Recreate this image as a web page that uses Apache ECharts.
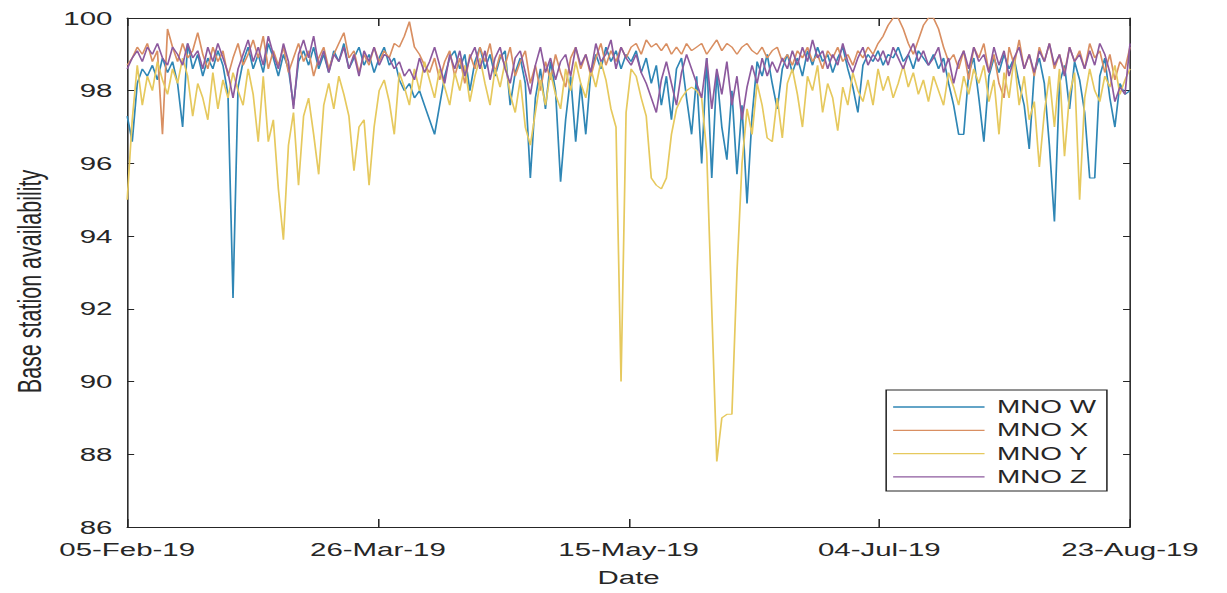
<!DOCTYPE html>
<html>
<head>
<meta charset="utf-8">
<title>Base station availability</title>
<script src="https://cdn.jsdelivr.net/npm/echarts@6/dist/echarts.min.js"></script>
<style>
  html, body { margin: 0; padding: 0; background: #ffffff; overflow: hidden; }
  #wrap { width: 1227px; height: 593px; overflow: hidden; }
  /* the figure is laid out on a narrower canvas and widened horizontally */
  #chart { width: 792px; height: 593px; transform-origin: 0 0; }
</style>
</head>
<body>
<div id="wrap"><div id="chart"></div></div>
<script>
// Daily availability (%) from 05-Feb-19 (day 0) to 23-Aug-19 (day 199)
const startDate = '05-Feb-19';
const tickLabels = ['05-Feb-19', '26-Mar-19', '15-May-19', '04-Jul-19', '23-Aug-19'];
const seriesNames = ['MNO W', 'MNO X', 'MNO Y', 'MNO Z'];

const mnoW = [
  97.3, 96.6, 98.2, 98.6, 98.4, 98.7, 98.3, 98.9, 98.5, 98.8,
  98.2, 97.0, 99.3, 98.6, 99.0, 98.4, 98.9, 98.6, 99.1, 98.7,
  97.9, 92.3, 98.1, 98.8, 99.2, 98.6, 99.0, 98.5, 99.3, 98.9,
  98.4, 99.0, 98.6, 97.6, 98.8, 99.1, 98.7, 99.2, 98.6, 99.0,
  98.5, 99.1, 98.8, 99.3, 98.6, 98.9, 99.2, 98.7, 99.0, 98.5,
  98.9, 99.2, 98.7, 98.9, 98.3, 98.0, 98.2, 97.8, 98.0, 97.6,
  97.2, 96.8, 97.6, 98.4, 98.9, 99.1, 98.6, 99.0, 98.0, 98.8,
  99.2, 98.6, 99.0, 98.4, 98.9, 99.1, 97.6, 98.5, 98.9, 98.2,
  95.6, 97.8, 98.6, 97.5, 98.8, 98.0, 95.5, 97.2, 98.4, 96.6,
  98.2, 96.8, 98.5, 99.0, 98.6, 99.2, 98.8, 99.1, 98.6, 99.0,
  98.8, 99.1, 98.5, 98.9, 98.2, 98.7, 97.6, 98.4, 97.2, 98.6,
  98.9, 97.8, 96.8, 98.4, 96.0, 98.9, 95.6, 98.5, 97.0, 96.1,
  98.0, 95.7, 97.6, 94.9, 97.3, 98.8, 98.4, 99.0, 98.2, 97.5,
  98.6, 99.0, 98.5, 98.9, 98.4, 99.1, 98.7, 99.2, 98.8, 99.0,
  98.5, 98.9, 99.2, 98.6, 98.1, 97.4, 98.7, 99.0, 98.8, 99.1,
  98.7, 99.0, 98.9, 99.2, 98.8, 99.0, 98.6, 99.1, 98.9, 98.7,
  99.0, 98.6, 98.9, 98.2, 97.6, 96.8, 96.8, 98.5, 98.9, 97.8,
  96.6, 98.4, 98.9, 98.5, 99.0, 98.6, 98.9, 98.2, 97.6, 96.4,
  98.5, 98.9, 98.2, 96.5, 94.4, 98.2, 98.7, 97.5, 98.8, 98.3,
  97.4, 95.6, 95.6, 98.4, 98.9, 97.8, 97.0, 98.2, 97.9, 98.0
];

const mnoX = [
  98.7, 98.9, 99.2, 99.0, 99.3, 98.8, 99.1, 96.8, 99.7, 99.2,
  98.8, 99.3, 98.9, 99.1, 99.6, 99.0, 98.6, 99.2, 98.8, 99.1,
  98.4, 98.9, 99.3, 98.7, 99.0, 99.4, 98.9, 99.5, 98.6, 99.1,
  98.7, 99.2, 98.5, 98.9, 99.3, 98.8, 99.1, 98.4, 98.9, 99.2,
  98.6, 99.0, 99.3, 99.6, 98.9, 99.1, 98.5, 99.0, 98.7, 99.2,
  98.8, 99.1, 98.9, 99.3, 99.2, 99.5, 99.9, 99.2, 99.0, 98.7,
  98.5, 98.9, 98.3, 98.8, 99.1, 98.4, 98.9, 98.2, 99.0, 98.6,
  99.2, 98.8, 99.3, 98.5, 99.0, 98.7, 99.2, 98.4, 98.8, 99.1,
  98.2, 98.7, 98.0, 98.8, 98.3, 99.0, 98.5, 98.1, 98.9, 99.2,
  98.6, 99.0, 98.4, 98.9, 99.3, 98.7, 99.1, 98.8, 99.2, 98.9,
  99.2, 99.3, 99.0, 99.4, 99.2, 99.3, 99.1, 99.3, 99.0, 99.2,
  99.0, 99.3, 99.1, 99.2, 99.3, 99.0, 99.2, 99.4, 99.1, 99.3,
  99.2, 99.0, 99.2, 99.3, 99.1, 99.0, 99.2, 98.9, 99.1, 99.2,
  98.8, 99.0, 98.7, 99.1, 98.9, 99.2, 98.8, 99.0, 98.6, 99.1,
  98.9, 99.2, 98.8, 99.0, 98.7, 99.1, 98.9, 99.2, 99.0, 99.3,
  99.5, 99.8, 100.0, 100.0, 99.7, 99.3, 99.0, 99.4, 99.8, 100.0,
  100.0, 99.7, 99.2, 98.8, 99.0, 98.6, 99.1, 98.3, 99.2, 98.9,
  99.3, 98.5, 99.0, 98.2, 97.8, 99.2, 98.7, 99.4, 98.6, 99.0,
  98.4, 99.2, 98.8, 99.3, 98.6, 99.0, 98.5, 99.2, 98.8, 99.1,
  98.6, 99.3, 98.9, 99.1, 98.5, 99.0, 98.3, 98.8, 98.6, 99.2
];

const mnoY = [
  95.0, 97.2, 98.7, 97.6, 98.4, 98.0, 98.8, 98.3, 97.9, 98.6,
  98.2, 98.9, 98.4, 97.3, 98.2, 97.8, 97.2, 98.5, 97.5, 98.3,
  97.8, 98.5, 98.0, 97.6, 98.6, 97.9, 96.6, 98.4, 96.6, 97.2,
  95.3, 93.9, 96.5, 97.4, 95.4, 97.3, 97.8, 96.8, 95.7, 97.6,
  98.2, 97.5, 98.4, 97.9, 97.3, 95.8, 97.0, 97.2, 95.4, 97.0,
  98.0, 98.3, 97.7, 96.8, 98.5, 98.1, 97.6, 98.6, 98.0, 98.8,
  98.3, 97.8, 98.6, 98.1, 97.6, 98.5, 98.0, 98.7, 97.7, 98.4,
  98.9, 98.2, 97.6, 98.6, 98.1, 98.8, 97.9, 97.4, 98.3, 97.0,
  96.5, 97.4, 98.3, 97.6, 98.5, 97.9, 97.5, 98.6, 98.0, 98.8,
  98.2, 97.8, 98.6, 98.1, 98.8, 98.3, 97.5, 97.0, 90.0, 97.4,
  98.6, 98.4, 97.8, 97.3, 95.6, 95.4, 95.3, 95.6, 96.8, 97.5,
  97.8, 98.0, 98.1, 98.0, 97.8, 96.3, 92.0, 87.8, 89.0, 89.1,
  89.1, 93.0, 96.0, 97.5, 96.8, 98.2, 97.6, 96.7, 96.6, 97.8,
  96.7, 98.2, 98.6, 97.9, 97.0, 98.4, 98.0, 98.7, 97.4, 98.2,
  97.8, 96.9, 98.1, 97.6, 98.5, 98.0, 97.7, 98.3, 97.6, 98.6,
  98.0, 98.4, 97.8, 98.2, 98.7, 98.1, 98.5, 97.9, 98.3, 97.7,
  98.4, 98.0, 97.6, 98.5, 98.1, 97.6, 98.4, 97.9, 98.6, 98.2,
  98.7, 97.7, 98.3, 96.8, 98.5, 97.8, 98.9, 97.6, 98.4, 97.2,
  97.7, 95.9, 97.4, 98.4, 97.0, 98.6, 96.2, 97.9, 98.5, 95.0,
  97.8, 98.6, 98.0, 97.7, 98.4, 98.1, 98.7, 97.9, 98.3, 98.6
];

const mnoZ = [
  98.6, 98.9, 99.1, 98.8, 99.2, 99.0, 99.3, 98.9, 98.7, 99.2,
  99.0, 98.7, 99.3, 98.9, 99.1, 98.6, 99.2, 98.8, 99.3, 98.9,
  98.5, 97.8, 98.6, 99.0, 99.4, 98.8, 99.2, 98.7, 99.5, 99.0,
  98.6, 99.3, 98.8, 97.5, 99.0, 99.4, 98.9, 99.5, 98.7, 99.1,
  98.5, 99.0, 98.8, 99.2, 98.6, 99.0, 98.4, 99.1, 98.8, 99.2,
  98.7, 99.0, 98.9, 98.6, 98.8, 98.4, 98.6, 98.3, 98.9, 98.5,
  98.8, 99.2, 98.7, 98.2, 99.0, 98.6, 99.1, 98.4, 98.9, 99.2,
  98.6, 99.1, 98.3, 98.9, 99.2, 98.6, 98.2, 98.9, 99.1, 98.5,
  97.9, 98.7, 99.2, 98.5, 98.9, 98.3, 98.8, 99.0, 98.4, 99.2,
  98.7, 99.0, 98.5, 99.3, 98.8, 99.0, 99.4, 98.6, 99.2, 98.9,
  98.7, 99.0, 98.5, 98.2, 97.8, 97.4, 98.3, 98.8, 98.2, 97.6,
  98.5, 99.0, 98.6, 98.2, 97.8, 98.9, 97.5, 98.6, 97.9, 98.8,
  97.6, 98.4, 97.2, 98.1, 98.7, 98.2, 98.9, 98.4, 98.8, 98.5,
  98.9, 98.6, 99.1, 98.7, 99.2, 98.8, 99.4, 98.9, 99.1, 98.6,
  99.0, 98.7, 99.3, 98.8, 98.5, 98.9, 99.2, 98.7, 99.0, 98.8,
  99.1, 98.7, 99.2, 98.9, 98.6, 99.0, 99.3, 98.8, 99.1, 98.7,
  98.9, 99.2, 98.5, 98.9, 98.2, 98.8, 99.1, 98.6, 99.2, 98.8,
  99.0, 98.5, 99.2, 98.7, 99.1, 98.4, 98.9, 99.2, 98.6, 99.0,
  98.5, 99.1, 98.8, 99.3, 98.7, 99.0, 98.4, 99.2, 98.8, 99.0,
  98.6, 99.1, 98.7, 99.3, 99.0, 98.5, 97.7, 98.1, 97.9, 99.3
];

const yTicks = { min: 86, max: 100, step: 2 };
const lastDay = mnoW.length - 1;            // 199
const tickStep = lastDay / (tickLabels.length - 1);

// horizontal widening applied to the drawing
const stretch = 1227 / 792;
const el = document.getElementById('chart');
el.style.transform = 'scaleX(' + stretch + ')';

const font = 'Liberation Sans, Arial, Helvetica, sans-serif';
const ink = '#262626';
const colors = ['#2f86b5', '#d98f62', '#e6c95e', '#8d5a9e'];

function pairs(values) {
  return values.map((v, i) => [i, v]);
}

const chart = echarts.init(el, null, { renderer: 'svg' });

const axisCommon = {
  type: 'value',
  axisLine: { show: true, onZero: false, lineStyle: { color: ink, width: 1 } },
  splitLine: { show: false },
  axisTick: { show: true, inside: true, lineStyle: { color: ink, width: 1 } }
};

chart.setOption({
  animation: false,
  backgroundColor: '#ffffff',
  color: colors,
  textStyle: { fontFamily: font },
  grid: { left: 80.7, right: 62.6, top: 18, bottom: 66, containLabel: false },
  legend: {
    orient: 'vertical',
    left: 572,
    top: 390,
    data: seriesNames,
    icon: 'rect',
    itemWidth: 59,
    itemHeight: 1.3,
    itemGap: 5.3,
    padding: [8, 7, 5, 4.5],
    borderColor: ink,
    borderWidth: 1,
    backgroundColor: '#ffffff',
    textStyle: { fontSize: 18, lineHeight: 18, color: ink, fontFamily: font, padding: [0, 0, 0, 3] }
  },
  xAxis: [
    Object.assign({}, axisCommon, {
      position: 'bottom',
      min: 0,
      max: lastDay,
      interval: tickStep,
      axisTick: { show: true, inside: true, length: 8, lineStyle: { color: ink } },
      axisLabel: {
        show: true,
        margin: 13,
        fontSize: 19,
        color: ink,
        fontFamily: font,
        showMinLabel: true,
        showMaxLabel: true,
        formatter: function (v) {
          return tickLabels[Math.round(v / tickStep)] || '';
        }
      },
      name: 'Date',
      nameLocation: 'middle',
      nameGap: 41,
      nameTextStyle: { fontSize: 19, color: ink, fontFamily: font }
    }),
    Object.assign({}, axisCommon, {
      position: 'top',
      min: 0,
      max: lastDay,
      interval: tickStep,
      axisTick: { show: true, inside: true, length: 8, lineStyle: { color: ink } },
      axisLabel: { show: false }
    })
  ],
  yAxis: [
    Object.assign({}, axisCommon, {
      position: 'left',
      min: yTicks.min,
      max: yTicks.max,
      interval: yTicks.step,
      axisTick: { show: true, inside: true, length: 4.5, lineStyle: { color: ink } },
      axisLabel: { show: true, margin: 9.5, fontSize: 19, color: ink, fontFamily: font },
      name: 'Base station availability',
      nameLocation: 'middle',
      nameRotate: 90,
      nameGap: 52,
      nameTextStyle: { fontSize: 21.5, color: ink, fontFamily: font, padding: [0, 18, 0, 0] }
    }),
    Object.assign({}, axisCommon, {
      position: 'right',
      min: yTicks.min,
      max: yTicks.max,
      interval: yTicks.step,
      axisTick: { show: true, inside: true, length: 4.5, lineStyle: { color: ink } },
      axisLabel: { show: false }
    })
  ],
  series: [mnoW, mnoX, mnoY, mnoZ].map((vals, i) => ({
    name: seriesNames[i],
    type: 'line',
    xAxisIndex: 0,
    yAxisIndex: 0,
    data: pairs(vals),
    symbol: 'none',
    smooth: false,
    lineStyle: { width: 1.1, color: colors[i] },
    itemStyle: { color: colors[i] },
    z: 2 + i
  }))
});
</script>
</body>
</html>
